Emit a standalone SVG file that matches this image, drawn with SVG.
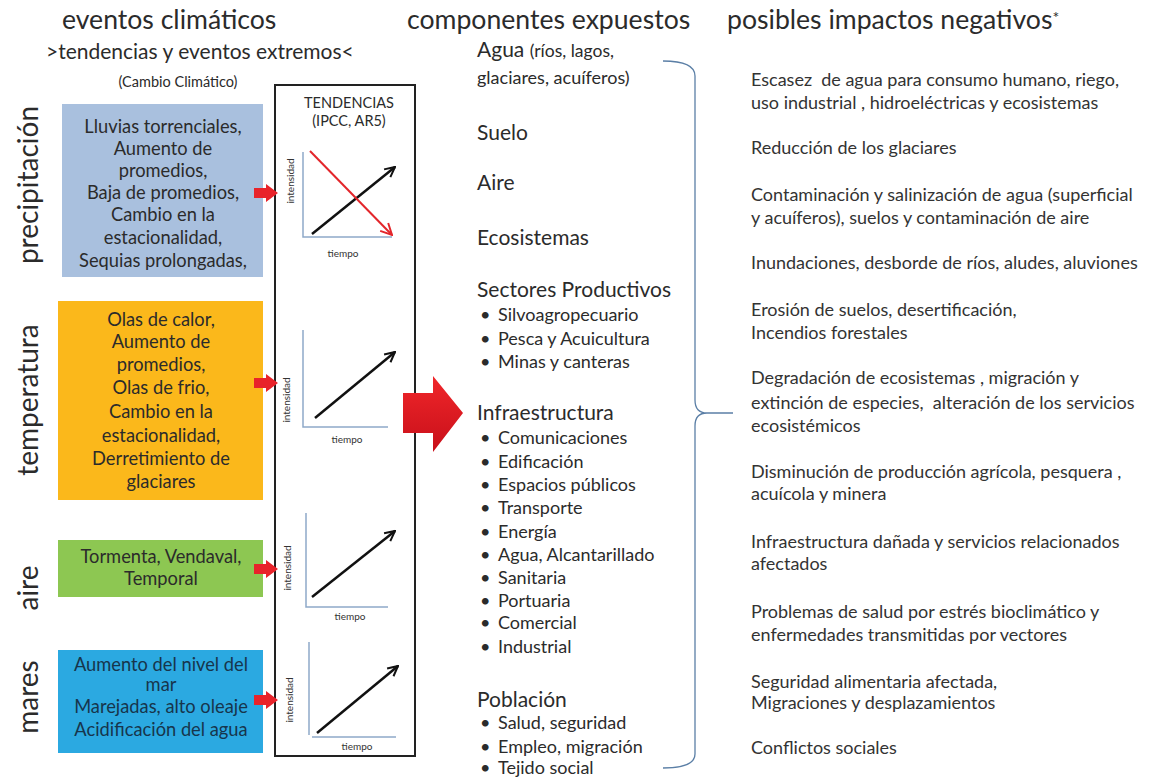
<svg xmlns="http://www.w3.org/2000/svg" width="1151" height="777" viewBox="0 0 1151 777">
<style>
text{font-family:Lato,"Liberation Sans",sans-serif;fill:#2b2b2b}
.h{font-size:26.6px}
.vl{font-size:28px;text-anchor:middle}
.bx{font-size:18.3px;text-anchor:middle}
.sm{font-size:10px;text-anchor:middle;fill:#333}
.it{font-size:21px}
.bu{font-size:18px}
.im{font-size:18px;fill:#333;white-space:pre}
.ax{stroke:#8ea9c9;stroke-width:1.5;fill:none}
.ar{stroke:#111;stroke-width:2.5;fill:none}
.arr{stroke:#e3262b;stroke-width:2;fill:none}
.sa{fill:#e8232a}
</style>
<defs>
<marker id="mk" viewBox="0 0 10 10" refX="9" refY="5" markerWidth="5" markerHeight="5" orient="auto" markerUnits="strokeWidth">
<path d="M1,1 L9,5 L1,9" fill="none" stroke="#111" stroke-width="1.6"/>
</marker>
<marker id="mkr" viewBox="0 0 10 10" refX="9" refY="5" markerWidth="7" markerHeight="7" orient="auto" markerUnits="strokeWidth">
<path d="M1,1 L9,5 L1,9" fill="none" stroke="#e3262b" stroke-width="1.4"/>
</marker>
<linearGradient id="rg" x1="0" y1="0" x2="0" y2="1">
<stop offset="0" stop-color="#f0262a"/>
<stop offset="1" stop-color="#c8101a"/>
</linearGradient>
</defs>
<rect width="1151" height="777" fill="#fff"/>

<g id="headers">
<text class="h" x="62" y="29">eventos climáticos</text>
<text x="46" y="59" font-size="21">&gt;tendencias y eventos extremos&lt;</text>
<text x="178" y="87" font-size="14.5" text-anchor="middle">(Cambio Climático)</text>
<text class="h" x="407" y="29">componentes expuestos</text>
<text class="h" x="727" y="29">posibles impactos negativos<tspan font-size="16" dy="-6">*</tspan></text>
</g>

<g id="label-precipitacion"><text class="vl" transform="translate(38,185) rotate(-90)">precipitación</text></g>
<g id="label-temperatura"><text class="vl" transform="translate(38,400) rotate(-90)">temperatura</text></g>
<g id="label-aire"><text class="vl" transform="translate(38,588) rotate(-90)">aire</text></g>
<g id="label-mares"><text class="vl" transform="translate(38,697) rotate(-90)">mares</text></g>

<g id="box-precipitacion">
<rect x="62" y="104" width="201" height="173" fill="#a9c0de"/>
<text class="bx" x="163" y="133">Lluvias torrenciales,</text>
<text class="bx" x="163" y="155">Aumento de</text>
<text class="bx" x="163" y="177">promedios,</text>
<text class="bx" x="163" y="199">Baja de promedios,</text>
<text class="bx" x="163" y="221">Cambio en la</text>
<text class="bx" x="163" y="244">estacionalidad,</text>
<text class="bx" x="163" y="267">Sequias prolongadas,</text>
</g>

<g id="box-temperatura">
<rect x="58" y="301" width="205" height="199" fill="#fbb81b"/>
<text class="bx" x="161" y="326">Olas de calor,</text>
<text class="bx" x="161" y="348">Aumento de</text>
<text class="bx" x="161" y="371">promedios,</text>
<text class="bx" x="161" y="394">Olas de frio,</text>
<text class="bx" x="161" y="418">Cambio en la</text>
<text class="bx" x="161" y="442">estacionalidad,</text>
<text class="bx" x="161" y="465">Derretimiento de</text>
<text class="bx" x="161" y="488">glaciares</text>
</g>

<g id="box-aire">
<rect x="58" y="540" width="205" height="57" fill="#8dc752"/>
<text class="bx" x="161" y="563">Tormenta, Vendaval,</text>
<text class="bx" x="161" y="585">Temporal</text>
</g>

<g id="box-mares">
<rect x="58" y="650" width="205" height="103" fill="#2ba9e1"/>
<text class="bx" x="161" y="671" style="fill:#17354c">Aumento del nivel del</text>
<text class="bx" x="161" y="691" style="fill:#17354c">mar</text>
<text class="bx" x="161" y="713" style="fill:#17354c">Marejadas, alto oleaje</text>
<text class="bx" x="161" y="736" style="fill:#17354c">Acidificación del agua</text>
</g>

<g id="tendencias">
<rect x="275" y="85" width="140" height="671" fill="#fff" stroke="#222" stroke-width="2"/>
<text x="349" y="108" font-size="14.5" text-anchor="middle">TENDENCIAS</text>
<text x="349" y="126" font-size="14.5" text-anchor="middle">(IPCC, AR5)</text>
</g>

<g id="chart-precipitacion">
<path class="ax" d="M303,152 V237 H392"/>
<text class="sm" transform="translate(294,181) rotate(-90)">intensidad</text>
<text class="sm" x="343" y="257">tiempo</text>
<line class="ar" x1="312" y1="234" x2="395" y2="167" marker-end="url(#mk)"/>
<line class="arr" x1="310" y1="151" x2="392" y2="235" marker-end="url(#mkr)"/>
</g>

<g id="chart-temperatura">
<path class="ax" d="M303,330 V427 H388"/>
<text class="sm" transform="translate(290,400) rotate(-90)">intensidad</text>
<text class="sm" x="347" y="443">tiempo</text>
<line class="ar" x1="315" y1="418" x2="395" y2="352" marker-end="url(#mk)"/>
</g>

<g id="chart-aire">
<path class="ax" d="M306,513 V607 H388"/>
<text class="sm" transform="translate(291,568) rotate(-90)">intensidad</text>
<text class="sm" x="350" y="620">tiempo</text>
<line class="ar" x1="312" y1="597" x2="395" y2="531" marker-end="url(#mk)"/>
</g>

<g id="chart-mares">
<path class="ax" d="M309,642 V735 M312,737 H396"/>
<text class="sm" transform="translate(293,700) rotate(-90)">intensidad</text>
<text class="sm" x="357" y="750">tiempo</text>
<line class="ar" x1="317" y1="733" x2="398" y2="666" marker-end="url(#mk)"/>
</g>

<g id="connectors">
<path class="sa" d="M254,188 H266 V184 L278,193 L266,202 V198 H254 Z"/>
<path class="sa" d="M254,378 H266 V374 L278,383 L266,392 V388 H254 Z"/>
<path class="sa" d="M254,564 H266 V560 L278,569 L266,578 V574 H254 Z"/>
<path class="sa" d="M254,695 H266 V691 L278,700 L266,709 V705 H254 Z"/>
<path fill="url(#rg)" d="M403,393 H433 V376 L463,413 L433,452 V433 H403 Z"/>
<path fill="none" stroke="#5b7fa6" stroke-width="1.3" d="M663,61 Q695,61 695,76 V400 Q695,413 707,413 H733 M707,413 Q695,413 695,426 V754 Q695,768 663,768"/>
</g>

<g id="componentes">
<text class="it" x="477" y="57">Agua <tspan font-size="17.5">(ríos, lagos,</tspan></text>
<text x="477" y="84" font-size="18">glaciares, acuíferos)</text>
<text class="it" x="477" y="140">Suelo</text>
<text class="it" x="477" y="190">Aire</text>
<text class="it" x="477" y="245">Ecosistemas</text>
<text class="it" x="477" y="297">Sectores Productivos</text>
<g class="bu">
<text x="480" y="321">•</text><text x="498" y="321">Silvoagropecuario</text>
<text x="480" y="345">•</text><text x="498" y="345">Pesca y Acuicultura</text>
<text x="480" y="368">•</text><text x="498" y="368">Minas y canteras</text>
</g>
<text class="it" x="477" y="420">Infraestructura</text>
<g class="bu">
<text x="480" y="444">•</text><text x="498" y="444">Comunicaciones</text>
<text x="480" y="468">•</text><text x="498" y="468">Edificación</text>
<text x="480" y="491">•</text><text x="498" y="491">Espacios públicos</text>
<text x="480" y="514">•</text><text x="498" y="514">Transporte</text>
<text x="480" y="538">•</text><text x="498" y="538">Energía</text>
<text x="480" y="561">•</text><text x="498" y="561">Agua, Alcantarillado</text>
<text x="480" y="584">•</text><text x="498" y="584">Sanitaria</text>
<text x="480" y="607">•</text><text x="498" y="607">Portuaria</text>
<text x="480" y="629">•</text><text x="498" y="629">Comercial</text>
<text x="480" y="653">•</text><text x="498" y="653">Industrial</text>
</g>
<text class="it" x="477" y="707">Población</text>
<g class="bu">
<text x="480" y="729">•</text><text x="498" y="729">Salud, seguridad</text>
<text x="480" y="753">•</text><text x="498" y="753">Empleo, migración</text>
<text x="480" y="774">•</text><text x="498" y="774">Tejido social</text>
</g>
</g>

<g id="impactos">
<text class="im" x="751" y="86">Escasez  de agua para consumo humano, riego,</text>
<text class="im" x="751" y="109">uso industrial , hidroeléctricas y ecosistemas</text>
<text class="im" x="751" y="154">Reducción de los glaciares</text>
<text class="im" x="751" y="201">Contaminación y salinización de agua (superficial</text>
<text class="im" x="751" y="224">y acuíferos), suelos y contaminación de aire</text>
<text class="im" x="751" y="269">Inundaciones, desborde de ríos, aludes, aluviones</text>
<text class="im" x="751" y="316">Erosión de suelos, desertificación,</text>
<text class="im" x="751" y="339">Incendios forestales</text>
<text class="im" x="751" y="384">Degradación de ecosistemas , migración y</text>
<text class="im" x="751" y="409">extinción de especies,  alteración de los servicios</text>
<text class="im" x="751" y="432">ecosistémicos</text>
<text class="im" x="751" y="478">Disminución de producción agrícola, pesquera ,</text>
<text class="im" x="751" y="500">acuícola y minera</text>
<text class="im" x="751" y="548">Infraestructura dañada y servicios relacionados</text>
<text class="im" x="751" y="570">afectados</text>
<text class="im" x="751" y="618">Problemas de salud por estrés bioclimático y</text>
<text class="im" x="751" y="641">enfermedades transmitidas por vectores</text>
<text class="im" x="751" y="688">Seguridad alimentaria afectada,</text>
<text class="im" x="751" y="709">Migraciones y desplazamientos</text>
<text class="im" x="751" y="754">Conflictos sociales</text>
</g>
</svg>
